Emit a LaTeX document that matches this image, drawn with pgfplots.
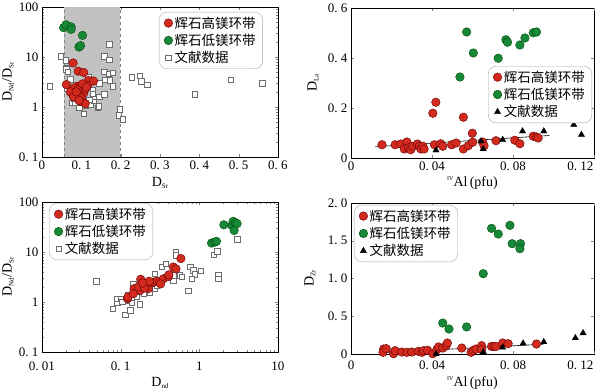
\documentclass[border=0pt]{standalone}
\usepackage{pgfplots}
\pgfplotsset{compat=1.18}
\usepackage{fontspec}
\setmainfont{Liberation Serif}
\newfontfamily\cjk{Noto Sans CJK SC}
\definecolor{redm}{HTML}{D22A1E}
\definecolor{greenm}{HTML}{17883A}
\definecolor{band}{HTML}{C2C2C2}
\newcommand{\sub}[1]{\raisebox{-0.3ex}{\fontsize{7}{7}\selectfont #1}}
\pgfplotsset{
  panel/.style={
    scale only axis,
    axis line style={line width=0.7pt},
    tick label style={font=\fontsize{13}{13}\selectfont},
    label style={font=\fontsize{14}{14}\selectfont},
    tick align=inside,
    major tick length=3pt, minor tick length=2pt,
    tick style={gray},
    legend cell align=left,
    legend style={draw=gray!70, rounded corners=8pt, fill=white,
      font=\cjk\fontsize{13.5}{15}\selectfont, inner xsep=5pt, inner ysep=2.5pt,
      row sep=0.5pt},
  },
  redpt/.style={only marks, mark=*, mark size=4.3pt, mark options={fill=redm, draw=red!40!black, line width=0.4pt}},
  greenpt/.style={only marks, mark=*, mark size=4.3pt, mark options={fill=greenm, draw=green!30!black, line width=0.4pt}},
  sqpt/.style={only marks, mark=square*, mark size=2.7pt, mark options={fill=white, draw=gray!85!black, line width=0.5pt}},
  tript/.style={only marks, mark=triangle*, mark size=3.6pt, mark options={fill=black, draw=black}},
}
\begin{document}
\begin{tikzpicture}
\useasboundingbox (0,0) rectangle (600pt,390pt);
% ---------------- Panel 1 ----------------
\begin{axis}[panel, at={(42pt,233pt)}, anchor=south west, width=236pt, height=150pt,
  xmin=0, xmax=0.6, ymode=log, ymin=0.1, ymax=100,
  xtick={0,0.1,0.2,0.3,0.4,0.5,0.6},
  xticklabels={0,0.\ 1,0.\ 2,0.\ 3,0.\ 4,0.\ 5,0.\ 6},
  ytick={0.1,1,10,100}, yticklabels={0.\ 1,1,10,100},
  xlabel={D\sub{Sr}}, ylabel={D\sub{Nd}/D\sub{Sr}},
  xlabel style={at={(axis description cs:0.5,-0.173)}, anchor=center},
  ylabel style={at={(axis description cs:-0.144,0.5)}, anchor=center},
  legend style={at={(0.936,0.967)}, anchor=north east}]
\addplot[fill=band, draw=none, forget plot] coordinates {(0.057,0.1) (0.057,100) (0.199,100) (0.199,0.1)} -- cycle;
\addplot[gray, dashed, forget plot] coordinates {(0.057,0.1) (0.057,100)};
\addplot[gray, dashed, forget plot] coordinates {(0.199,0.1) (0.199,100)};
\addplot[sqpt, forget plot] coordinates {
(0.019,2.6) (0.048,10.3) (0.060,8.6) (0.061,6.1) (0.062,5.7) (0.066,5.0) (0.072,3.6) (0.063,2.3)
(0.076,1.2) (0.085,1.2) (0.095,0.97) (0.106,0.74) (0.110,1.08) (0.123,1.11) (0.141,0.97) (0.144,1.03)
(0.131,1.36) (0.132,1.6) (0.146,1.6) (0.158,1.8) (0.146,3.0) (0.159,3.5) (0.173,3.4) (0.158,5.0)
(0.169,4.6) (0.180,4.8) (0.180,2.6) (0.129,2.2) (0.129,1.85) (0.158,10.3) (0.171,8.9) (0.171,17.9)
(0.197,0.9) (0.195,0.68) (0.205,0.57) (0.228,3.9) (0.249,4.2) (0.252,3.3) (0.268,2.8) (0.389,1.8)
(0.480,3.5) (0.560,3.0) (0.118,4.0) (0.085,1.8) (0.082,1.5) (0.120,1.4)};
\addplot[redpt] coordinates {
(0.079,7.6) (0.092,5.2) (0.106,4.9) (0.062,2.8) (0.118,3.4) (0.131,3.3) (0.076,1.9) (0.085,2.3)
(0.089,2.6) (0.097,2.6) (0.101,2.2) (0.106,1.9) (0.095,1.7) (0.100,1.5) (0.097,1.3) (0.110,1.17)
(0.110,2.3) (0.116,2.7) (0.082,2.4) (0.090,2.2) (0.072,2.0) (0.103,2.9) (0.080,1.6) (0.094,1.36)
(0.113,2.5) (0.087,2.0)};
\addlegendentry{辉石高镁环带}
\addplot[greenpt] coordinates {
(0.055,38.6) (0.061,44) (0.074,40) (0.074,35.7) (0.103,27) (0.094,15.8) (0.098,16.9)};
\addlegendentry{辉石低镁环带}
\addlegendimage{sqpt}
\addlegendentry{文献数据}
\end{axis}
% ---------------- Panel 2 ----------------
\begin{axis}[panel, at={(351pt,232pt)}, anchor=south west, width=243pt, height=150pt,
  xmin=0, xmax=0.12, ymin=0, ymax=0.6,
  xtick={0,0.04,0.08}, xticklabels={0,0.\ 04,0.\ 08},
  extra x ticks={0.12}, extra x tick labels={0.\ 12},
  extra x tick style={xticklabel style={anchor=north east, xshift=3pt}},
  ytick={0,0.2,0.4,0.6}, yticklabels={0,0.\ 2,0.\ 4,0.\ 6},
  xlabel={\raisebox{1ex}{\fontsize{6}{6}\selectfont IV}Al\,(pfu)}, ylabel={D\sub{La}},
  xlabel style={at={(axis description cs:0.5,-0.167)}, anchor=center},
  ylabel style={at={(axis description cs:-0.156,0.5)}, anchor=center},
  legend style={at={(0.992,0.613)}, anchor=north east}]
\addplot[black, line width=0.6pt, forget plot] coordinates {(0.012,0.045) (0.098,0.090)};
\addplot[redpt] coordinates {
(0.0419,0.223) (0.0404,0.179) (0.0555,0.163) (0.0599,0.099)
(0.0153,0.053) (0.0218,0.053) (0.0246,0.056) (0.0276,0.064) (0.0263,0.036) (0.0284,0.040) (0.0295,0.033)
(0.0305,0.047) (0.0328,0.056) (0.0337,0.047) (0.0345,0.036) (0.0355,0.047) (0.0361,0.036) (0.0412,0.053)
(0.0443,0.057) (0.0453,0.047) (0.0497,0.053) (0.0519,0.060) (0.0555,0.036) (0.0579,0.049) (0.0601,0.063)
(0.0650,0.064) (0.0657,0.049) (0.0716,0.069) (0.0809,0.071) (0.0834,0.057) (0.0900,0.087) (0.0916,0.084)
(0.0924,0.080)};
\addlegendentry{辉石高镁环带}
\addplot[greenpt] coordinates {
(0.0571,0.504) (0.0604,0.420) (0.0538,0.324) (0.0727,0.399) (0.0765,0.473) (0.0773,0.463)
(0.0834,0.452) (0.0859,0.480) (0.0900,0.501) (0.0916,0.504)};
\addlegendentry{辉石低镁环带}
\addplot[tript] coordinates {
(0.042,0.031) (0.0653,0.036) (0.0642,0.067) (0.0749,0.073) (0.0847,0.107) (0.0952,0.107)
(0.110,0.133) (0.1138,0.093)};
\addlegendentry{文献数据}
\end{axis}
% ---------------- Panel 3 ----------------
\begin{axis}[panel, at={(42pt,38pt)}, anchor=south west, width=236pt, height=150pt,
  xmode=log, ymode=log, xmin=0.01, xmax=10, ymin=0.1, ymax=100,
  xtick={0.01,0.1,1,10}, xticklabels={0.\ 01,0.\ 1,1,10},
  ytick={0.1,1,10,100}, yticklabels={0.\ 1,1,10,100},
  xticklabel style={yshift=-6pt},
  xlabel={D\sub{nd}}, ylabel={D\sub{Nd}/D\sub{Sr}},
  xlabel style={at={(axis description cs:0.5,-0.207)}, anchor=center},
  ylabel style={at={(axis description cs:-0.144,0.5)}, anchor=center},
  legend style={at={(0.03,0.993)}, anchor=north west}]
\addplot[sqpt, forget plot] coordinates {
(0.049,2.6) (0.079,0.74) (0.091,0.97) (0.089,1.17) (0.100,1.17) (0.114,0.56) (0.132,0.68) (0.138,0.955)
(0.119,1.08) (0.160,1.26) (0.176,0.90) (0.145,2.33) (0.195,1.47) (0.236,1.54) (0.232,2.0) (0.273,1.85)
(0.273,3.7) (0.332,5.0) (0.373,5.8) (0.505,10) (0.505,8.6) (0.467,2.7) (0.467,3.4) (0.566,3.4)
(0.594,3.2) (0.720,1.7) (0.770,5.0) (0.835,4.3) (0.877,3.6) (0.796,2.9) (1.04,4.2) (1.53,8.9)
(1.68,10.3) (1.73,3.4) (1.73,2.9) (3.05,17.9) (0.287,2.15) (0.214,2.5) (0.376,3.2) (0.125,1.4)
(0.150,1.6) (0.105,1.0)};
\addplot[redpt] coordinates {
(0.122,1.17) (0.124,1.26) (0.148,1.85) (0.145,1.47) (0.180,2.84) (0.176,1.7) (0.195,2.15) (0.214,2.2)
(0.225,1.85) (0.248,2.44) (0.265,2.5) (0.287,2.6) (0.310,2.44) (0.348,2.9) (0.403,3.2) (0.410,3.5)
(0.467,5.0) (0.505,4.6) (0.583,7.4) (0.168,2.0) (0.202,1.9) (0.322,2.3) (0.230,2.6) (0.190,2.4)};
\addlegendentry{辉石高镁环带}
\addplot[greenpt] coordinates {
(1.43,15.1) (1.57,15.8) (1.65,16.3) (2.05,35) (2.60,34) (2.69,41) (2.88,38.6) (3.02,36.9) (2.77,27)};
\addlegendentry{辉石低镁环带}
\addlegendimage{sqpt}
\addlegendentry{文献数据}
\end{axis}
% ---------------- Panel 4 ----------------
\begin{axis}[panel, at={(351pt,36pt)}, anchor=south west, width=243pt, height=151pt,
  xmin=0, xmax=0.12, ymin=0, ymax=2,
  xtick={0,0.04,0.08}, xticklabels={0,0.\ 04,0.\ 08},
  extra x ticks={0.12}, extra x tick labels={0.\ 12},
  xticklabel style={yshift=-3pt},
  extra x tick style={xticklabel style={anchor=north east, xshift=3pt}},
  ytick={0,0.5,1,1.5,2}, yticklabels={0,0.\ 5,1.\ 0,1.\ 5,2.\ 0},
  xlabel={\raisebox{1ex}{\fontsize{6}{6}\selectfont IV}Al\,(pfu)}, ylabel={D\sub{Zr}},
  xlabel style={at={(axis description cs:0.5,-0.192)}, anchor=center},
  ylabel style={at={(axis description cs:-0.169,0.5)}, anchor=center},
  legend style={at={(0.012,0.987)}, anchor=north west}]
\addplot[black, line width=0.6pt, forget plot] coordinates {(0.014,0.015) (0.095,0.130)};
\addplot[redpt] coordinates {
(0.0161,0.066) (0.0158,0.022) (0.0174,0.071) (0.0210,0.004) (0.0218,0.044) (0.0251,0.026) (0.0276,0.022)
(0.0300,0.026) (0.0333,0.035) (0.0350,0.022) (0.0358,0.044) (0.0378,0.049) (0.0404,0.004) (0.0424,0.057)
(0.0432,0.093) (0.0453,0.079) (0.0470,0.110) (0.0476,0.146) (0.0547,0.079) (0.0593,0.022) (0.0604,0.049)
(0.0617,0.066) (0.0645,0.110) (0.0645,0.057) (0.0694,0.100) (0.0706,0.100) (0.0716,0.100) (0.0749,0.146)
(0.0776,0.137) (0.0916,0.132)};
\addlegendentry{辉石高镁环带}
\addplot[greenpt] coordinates {
(0.0453,0.41) (0.0484,0.331) (0.0571,0.358) (0.0653,1.064) (0.0694,1.664) (0.0727,1.589)
(0.0785,1.704) (0.0796,1.461) (0.0837,1.461) (0.0834,1.395)};
\addlegendentry{辉石低镁环带}
\addplot[tript] coordinates {
(0.042,0.0) (0.0653,0.026) (0.0749,0.088) (0.0850,0.141) (0.0952,0.159) (0.1108,0.212) (0.1146,0.278)};
\addlegendentry{文献数据}
\end{axis}
\end{tikzpicture}
\end{document}
